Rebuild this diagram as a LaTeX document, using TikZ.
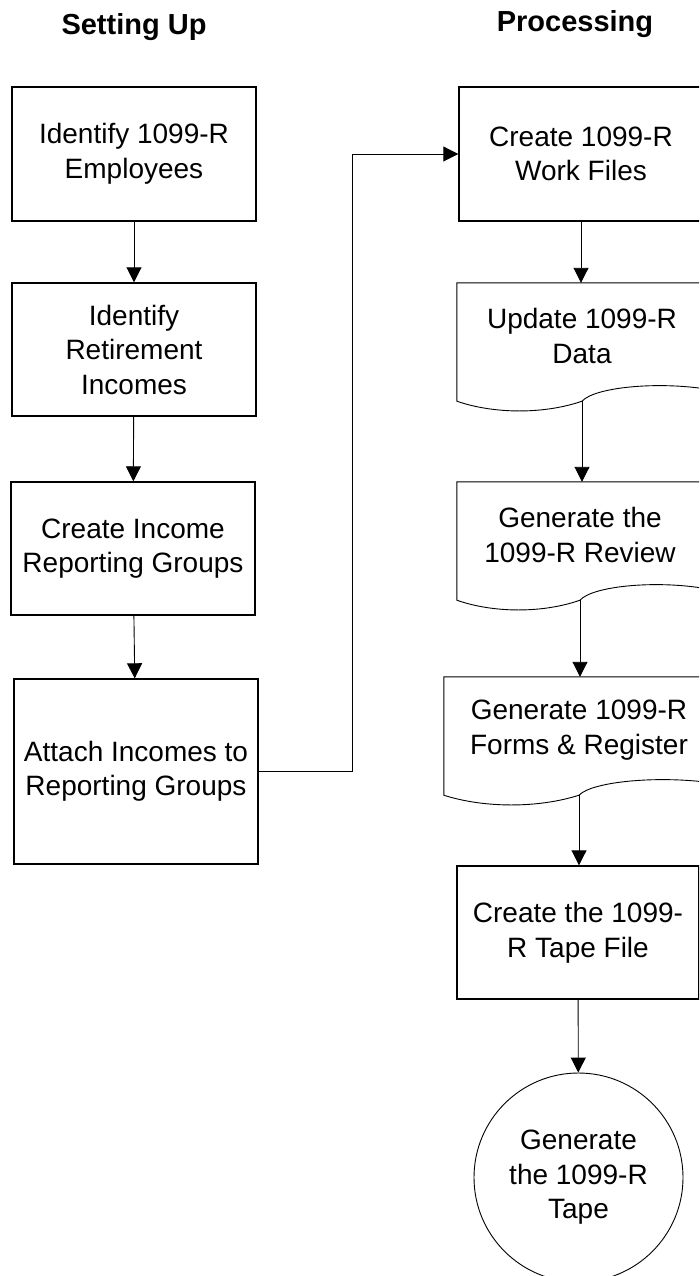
\documentclass[tikz,border=0pt]{standalone}
\usepackage{fontspec}
\setmainfont{Liberation Sans}
\usetikzlibrary{arrows.meta,calc}

% outline of a document symbol: wavy bottom hangs 12 below the node
\newcommand{\docwave}[1]{%
  \draw[docline] ($(#1.south west)+(0,12)$) -- (#1.north west) -- (#1.north east)
    -- (#1.south east)
    .. controls ($(#1.south west)!0.8!(#1.south east)+(0,-8)$)
       and ($(#1.south west)!0.55!(#1.south east)+(0,-2)$) .. ($(#1.south)+(0,12)$)
    .. controls ($(#1.south west)!0.35!(#1.south east)+(0,25)$)
       and ($(#1.south west)!0.15!(#1.south east)+(0,25)$) .. cycle;
  \coordinate (#1-out) at ($(#1.south)+(0,12)$);
}

\begin{document}
\begin{tikzpicture}[x=1pt,y=-1pt,
    txt/.style={align=center,inner sep=0pt,font=\fontsize{28}{34.5}\selectfont},
    proc/.style={txt,draw,line width=1.4pt,minimum width=244pt},
    doc/.style={txt,minimum width=250pt,minimum height=106pt},
    docline/.style={line width=0.9pt},
    head/.style={anchor=base,font=\bfseries\fontsize{29}{34}\selectfont},
    arr/.style={line width=0.9pt,-{Triangle[length=15pt,width=15pt]}}]
  \path[clip,use as bounding box] (0,0) rectangle (699,1276);
  \fill[white] (0,0) rectangle (699,1276);

  % column titles
  \node[head] (hsetup) at (134,35) {Setting Up};
  \node[head] (hproc) at (575,32) {Processing};

  % setting up
  \node[proc,minimum height=134pt] (emp) at (134,154) {Identify 1099-R\\Employees};
  \node[proc,minimum height=133pt] (ret) at (134,349.5) {Identify\\Retirement\\Incomes};
  \node[proc,minimum height=133pt] (grp) at (133,548.5) {Create Income\\Reporting Groups};
  \node[proc,minimum height=185pt] (att) at (136,771.5) {Attach Incomes to\\Reporting Groups};

  % processing
  \node[proc,minimum height=134pt] (work) at (581,154) {Create 1099-R\\Work Files};
  \node[doc] (upd) at (582,336) {Update 1099-R\\Data};
  \node[doc,minimum width=246pt] (rev) at (580,535) {Generate the\\1099-R Review};
  \node[doc,minimum width=270pt] (frm) at (579,730) {Generate 1099-R\\Forms \& Register};
  \node[proc,minimum width=242pt,minimum height=133pt] (tpf) at (578,932.5) {Create the 1099-\\R Tape File};
  \node[txt,circle,draw,line width=0.9pt,minimum size=209pt] (tape) at (578.5,1177.5) {Generate\\the 1099-R\\Tape};
  \docwave{upd}
  \docwave{rev}
  \docwave{frm}

  % connectors
  \draw[arr] (emp) -- (ret);
  \draw[arr] (ret) -- (grp);
  \draw[arr] (grp) -- (att);
  \draw[arr] (att.east) -- ++(94,0) |- (work.west);
  \draw[arr] (work.south) -- (work.south |- upd.north);
  \draw[arr] (upd-out) -- (upd-out |- rev.north);
  \draw[arr] (rev-out) -- (rev-out |- frm.north);
  \draw[arr] (frm-out) -- (frm-out |- tpf.north);
  \draw[arr] (tpf) -- (tape);
\end{tikzpicture}
\end{document}
